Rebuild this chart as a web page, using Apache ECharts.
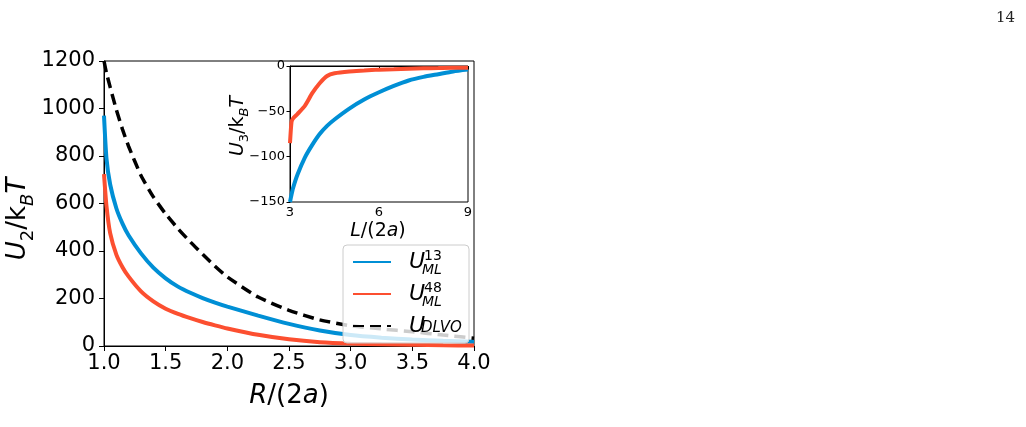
<!DOCTYPE html>
<html>
<head>
<meta charset="utf-8">
<script src="https://cdn.jsdelivr.net/npm/echarts@6.0.0/dist/echarts.min.js"></script>
<style>
  html, body { margin: 0; padding: 0; background: #fff; }
  #chart { width: 1026px; height: 427px; }
</style>
</head>
<body>
<div id="chart"></div>
<script>
// main plot: pair potential vs R/(2a)
const mainR = [1.0, 1.02, 1.05, 1.1, 1.15, 1.2, 1.3, 1.4, 1.5, 1.6, 1.7, 1.8, 1.9, 2.0, 2.25, 2.5, 2.75, 3.0, 3.25, 3.5, 3.75, 4.0];
const uML13 = [970, 790, 680, 580, 515, 465, 390, 330, 285, 250, 224, 202, 183, 166, 128, 93, 65, 46, 35, 27, 22, 18];
const uML48 = [724, 590, 475, 385, 332, 292, 230, 188, 157, 135, 117, 101, 87, 74, 47, 28, 16, 10, 7, 5, 3, 2];
const uDLVO = [1200, 1150, 1090, 995, 912, 840, 718, 628, 556, 494, 438, 386, 336, 291, 206, 150, 110, 85, 72, 60, 46, 33];

// inset: three-body term vs L/(2a)
const insetL = [3.0, 3.05, 3.1, 3.25, 3.5, 3.75, 4.0, 4.25, 4.5, 5.0, 5.5, 6.0, 6.5, 7.0, 7.5, 8.0, 8.5, 9.0];
const u3ML13 = [-150, -142, -135, -120, -101, -87, -75, -66, -59, -47, -37, -29, -22, -16, -12, -9, -6, -4];
const u3ML48 = [-85, -62, -58, -53, -44, -30, -19, -11, -8, -6, -5, -4, -3.5, -3, -2.6, -2.3, -2, -2];

const mainXTicks = { min: 1, max: 4, step: 0.5 };
const mainYTicks = { min: 0, max: 1200, step: 200 };
const insetXTicks = { min: 3, max: 9, step: 3 };
const insetYTicks = { min: -150, max: 0, step: 50 };

const BLUE = '#008fd5';
const RED = '#fc4f30';
const FONT = 'DejaVu Sans';

function pairs(xs, ys) {
  return xs.map((x, i) => [x, ys[i]]);
}

const axisCommon = {
  axisLine: { show: true, lineStyle: { color: '#000', width: 1 } },
  splitLine: { show: false }
};

var myChart = echarts.init(document.getElementById('chart'), null, { renderer: 'canvas' });

const subRich = {
  i: { fontFamily: FONT, fontStyle: 'italic', fontSize: 26, color: '#000', verticalAlign: 'bottom', padding: [0, 0, 6, 0] },
  n: { fontFamily: FONT, fontSize: 26, color: '#000', verticalAlign: 'bottom', padding: [0, 0, 6, 0] },
  s: { fontFamily: FONT, fontSize: 18, color: '#000', verticalAlign: 'bottom' },
  si: { fontFamily: FONT, fontStyle: 'italic', fontSize: 18, color: '#000', verticalAlign: 'bottom' }
};
const subRichSmall = {
  i: { fontFamily: FONT, fontStyle: 'italic', fontSize: 19, color: '#000', verticalAlign: 'bottom', padding: [0, 0, 4, 0] },
  n: { fontFamily: FONT, fontSize: 19, color: '#000', verticalAlign: 'bottom', padding: [0, 0, 4, 0] },
  s: { fontFamily: FONT, fontSize: 13, color: '#000', verticalAlign: 'bottom' },
  si: { fontFamily: FONT, fontStyle: 'italic', fontSize: 13, color: '#000', verticalAlign: 'bottom' }
};

function label(x, y, text, rich, rotate) {
  return {
    type: 'text', x: x, y: y, rotation: rotate ? Math.PI / 2 : 0, z: 20,
    style: { text: text, rich: rich, align: 'center', verticalAlign: 'middle' }
  };
}

// small legend sub/superscripts, y is the top of the text box
function small(x, y, text, size, italic) {
  return {
    type: 'text', x: x, y: y, z: 30,
    style: {
      text: text, fontFamily: FONT, fontSize: size, fontStyle: italic ? 'italic' : 'normal',
      fill: '#000', align: 'left', verticalAlign: 'top'
    }
  };
}

myChart.setOption({
  animation: false,
  backgroundColor: '#fff',
  grid: [
    { left: 104, top: 61, width: 370, height: 285, show: true, borderColor: '#000', borderWidth: 1, backgroundColor: 'transparent' },
    { left: 290, top: 66, width: 178, height: 136, show: true, borderColor: '#000', borderWidth: 1, backgroundColor: '#fff' }
  ],
  xAxis: [
    Object.assign({}, axisCommon, {
      gridIndex: 0, type: 'value', min: mainXTicks.min, max: mainXTicks.max, interval: mainXTicks.step,
      axisTick: { show: true, inside: false, length: 5, lineStyle: { color: '#000' } },
      axisLabel: { color: '#000', fontFamily: FONT, fontSize: 21, margin: 7, formatter: v => v.toFixed(1) }
    }),
    Object.assign({}, axisCommon, {
      gridIndex: 1, type: 'value', min: insetXTicks.min, max: insetXTicks.max, interval: insetXTicks.step,
      axisTick: { show: true, inside: false, length: 3.5, lineStyle: { color: '#000' } },
      axisLabel: { color: '#000', fontFamily: FONT, fontSize: 13, margin: 4 }
    })
  ],
  yAxis: [
    Object.assign({}, axisCommon, {
      gridIndex: 0, type: 'value', min: mainYTicks.min, max: mainYTicks.max, interval: mainYTicks.step,
      axisTick: { show: true, inside: false, length: 5, lineStyle: { color: '#000' } },
      axisLabel: { color: '#000', fontFamily: FONT, fontSize: 21, margin: 9, formatter: v => String(v) }
    }),
    Object.assign({}, axisCommon, {
      gridIndex: 1, type: 'value', min: insetYTicks.min, max: insetYTicks.max, interval: insetYTicks.step,
      axisTick: { show: true, inside: false, length: 3.5, lineStyle: { color: '#000' } },
      axisLabel: { color: '#000', fontFamily: FONT, fontSize: 13, margin: 5, formatter: v => String(v).replace('-', '\u2212') }
    })
  ],
  legend: {
    left: 343, top: 245, orient: 'vertical',
    data: ['ML13', 'ML48', 'DLVO'],
    itemWidth: 38, itemHeight: 14, itemGap: 10,
    padding: [6, 0, 6, 9],
    backgroundColor: 'rgba(255,255,255,0.8)',
    borderColor: '#cccccc', borderWidth: 1, borderRadius: 4,
    itemStyle: { opacity: 0 },
    formatter: () => '{u|U}',
    textStyle: {
      rich: {
        u: { fontFamily: FONT, fontStyle: 'italic', fontSize: 22, color: '#000', width: 60, lineHeight: 22, padding: [0, 0, 0, 13] }
      }
    },
    z: 10
  },
  graphic: [
    label(21, 219, '{i|U}{s|2}{n|/k}{si|B}{i|T}', subRich, true),
    label(289, 399, '{i|R}{n|/(2}{i|a}{n|)}', subRich, false),
    label(240, 126, '{i|U}{s|3}{n|/k}{si|B}{i|T}', subRichSmall, true),
    label(378, 233, '{i|L}{n|/(2}{i|a}{n|)}', subRichSmall, false),
    small(424, 249, '13', 14, false),
    small(422, 263, 'ML', 14, true),
    small(424, 281, '48', 14, false),
    small(422, 295, 'ML', 14, true),
    small(421, 321, 'DLVO', 15, true),
    {
      type: 'text', x: 1015, y: 11, z: 30,
      style: { text: '14', fontFamily: 'DejaVu Serif', fontSize: 15, fill: '#222', align: 'right', verticalAlign: 'top' }
    }
  ],
  series: [
    {
      name: 'ML13', type: 'line', xAxisIndex: 0, yAxisIndex: 0, symbol: 'none', smooth: 0.2,
      lineStyle: { color: BLUE, width: 4 }, itemStyle: { color: BLUE },
      data: pairs(mainR, uML13)
    },
    {
      name: 'ML48', type: 'line', xAxisIndex: 0, yAxisIndex: 0, symbol: 'none', smooth: 0.2,
      lineStyle: { color: RED, width: 4 }, itemStyle: { color: RED },
      data: pairs(mainR, uML48)
    },
    {
      name: 'DLVO', type: 'line', xAxisIndex: 0, yAxisIndex: 0, symbol: 'none', smooth: 0.2,
      lineStyle: { color: '#000', width: 3.5, type: [11, 6] }, itemStyle: { color: '#000' },
      data: pairs(mainR, uDLVO)
    },
    {
      name: 'inset13', type: 'line', xAxisIndex: 1, yAxisIndex: 1, symbol: 'none', smooth: 0.2,
      lineStyle: { color: BLUE, width: 4 },
      data: pairs(insetL, u3ML13)
    },
    {
      name: 'inset48', type: 'line', xAxisIndex: 1, yAxisIndex: 1, symbol: 'none', smooth: 0.2,
      lineStyle: { color: RED, width: 4 },
      data: pairs(insetL, u3ML48)
    }
  ]
});
</script>
</body>
</html>
